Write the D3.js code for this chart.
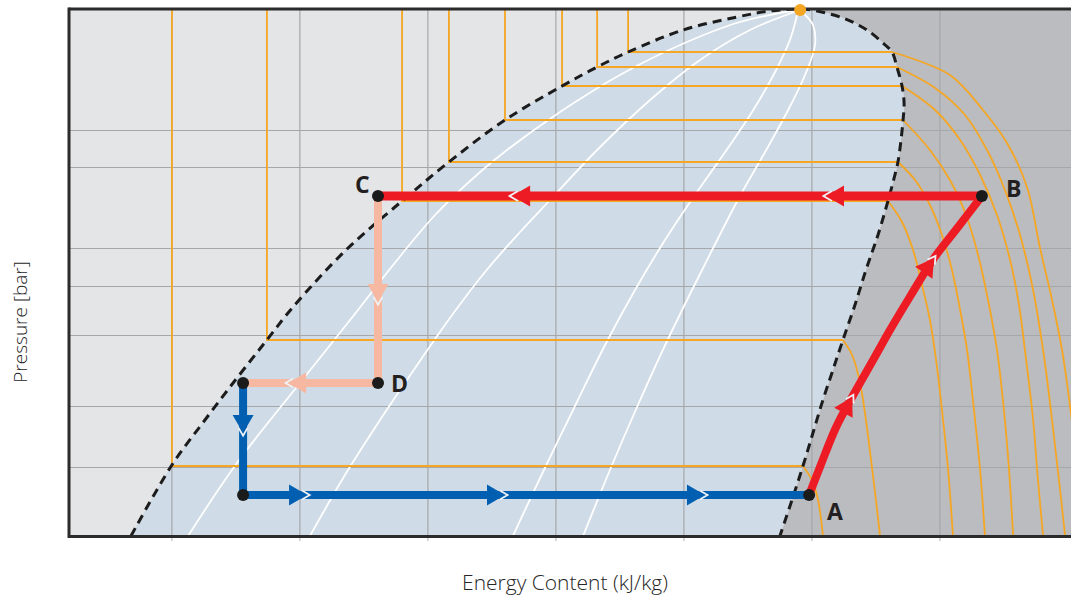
<!DOCTYPE html>
<html lang="en">
<head>
<meta charset="UTF-8">
<title>Pressure / Energy Content diagram</title>
<script src="https://d3js.org/d3.v7.min.js"></script>
<style>
  body { margin: 0; background: #fff; }
  svg { display: block; }
  .axis-title { font-family: "Open Sans", sans-serif; font-weight: 300; fill: #262626; }
  .pt-label { font-family: "Open Sans", sans-serif; font-weight: 700; font-size: 23px; fill: #231f20; }
</style>
</head>
<body>
<svg width="1071" height="597"></svg>
<script>
// grid values (enthalpy kJ/kg, pressure bar)
const hGrid = [150, 200, 250, 300, 350, 400, 450];
const pGrid = [6.9, 13.0, 20.1, 25.0, 28.8, 36.9, 40.6];

// saturation dome: liquid branch up to the critical point, then vapour branch down
const domeLiquid = [[134.2,0],[150.2,7.1],[163.1,11.6],[175.6,15.8],[187.3,19.6],[197.5,22.9],[218.2,28.6],
  [240.1,33.5],[258.4,37.4],[280.3,41.6],[302.6,45.0],[316.3,46.9],[328.4,48.4],[349.9,50.6],[370.9,51.9],
  [383.8,52.5],[395.6,52.7]];
const domeVapor = [[395.6,52.7],[400.2,52.6],[412.3,51.8],[421.7,50.6],[428.8,49.1],[431.5,48.4],[433.4,46.9],
  [435.4,45.0],[436.2,43.3],[435.8,41.6],[435.0,39.6],[433.8,37.4],[431.9,35.4],[429.9,33.5],[426.0,30.1],
  [421.3,26.6],[417.0,23.1],[412.3,19.6],[408.4,16.6],[404.5,13.6],[400.6,10.3],[396.7,7.0],[392.4,3.6],[387.7,0]];
const critical = [395.6, 52.7];

// isotherms: liquid enthalpy, saturation pressure, vapour enthalpy
const isoP = [7.0, 19.6, 33.5, 37.4, 41.6, 45.0, 46.9, 48.4];
const isoLiquidH = [150.2, 187.3, 240.1, 258.4, 280.3, 302.6, 316.3, 328.4];
const isoVaporH = [396.7, 412.3, 429.9, 433.8, 435.8, 435.4, 433.4, 431.5];
const superheat = [
  [[396.7,7.0],[400.2,5.6],[402.6,3.6],[403.8,1.6],[404.5,0]],
  [[412.3,19.6],[415.9,18.1],[419.0,15.3],[421.3,11.6],[423.3,7.6],[425.2,3.6],[426.8,0]],
  [[429.9,33.5],[435.4,31.4],[439.7,28.6],[443.2,25.1],[446.3,21.6],[448.7,17.6],[451.0,12.6],[453.4,6.6],[455.3,0]],
  [[433.8,37.4],[440.5,35.6],[446.3,33.1],[451.0,30.1],[454.9,26.6],[458.1,22.6],[460.8,18.6],[463.5,12.6],[465.9,6.6],[467.8,0]],
  [[435.8,41.6],[446.3,38.6],[454.1,35.6],[460.4,32.1],[465.1,28.1],[469.0,23.6],[472.5,18.6],[475.2,12.6],[477.2,6.6],[478.8,0]],
  [[435.4,45.0],[448.3,42.6],[458.1,39.6],[465.9,36.1],[472.5,32.1],[477.6,27.6],[481.1,23.1],[483.4,18.6],[486.6,11.6],[488.5,5.6],[490.5,0]],
  [[433.4,46.9],[448.3,44.8],[460.0,42.1],[468.6,38.6],[475.6,34.6],[481.5,30.1],[486.2,25.1],[490.5,18.6],[494.0,11.6],[496.7,5.6],[499.1,0]],
  [[431.5,48.4],[454.1,46.1],[467.0,42.6],[476.4,39.3],[484.2,34.9],[489.3,28.8],[494.0,23.6],[497.9,18.6],[500.2,14.6],[502.2,10.6]]
];

// constant quality lines inside the dome
const quality = [
  [[156.5,0],[175.6,7.3],[200.2,15.3],[219.8,21.6],[236.6,27.1],[253.0,32.1],[270.6,36.4],[281.1,38.6],[301.8,42.4],[325.2,46.1],[348.7,49.1],[372.1,51.4],[394.4,52.6]],
  [[204.1,0],[217.8,6.1],[231.5,11.6],[245.2,16.8],[258.8,21.8],[272.5,26.4],[286.2,30.4],[297.9,33.6],[316.3,38.6],[337.0,43.6],[356.5,47.6],[376.0,50.6],[394.4,52.5]],
  [[283.4,0],[294.0,5.8],[306.9,12.6],[319.4,19.1],[331.1,24.6],[342.8,29.6],[354.5,34.1],[366.3,38.4],[376.8,42.4],[385.8,46.4],[391.6,49.6],[394.4,52.1]],
  [[310.8,0],[321.3,6.6],[331.9,12.9],[341.6,18.4],[351.4,23.6],[361.6,28.8],[372.1,34.0],[381.9,38.4],[390.5,42.4],[397.5,46.1],[401.4,49.1],[400.6,51.1],[395.9,52.5]]
];

// refrigeration cycle
const A = [399.1, 4.1], B = [466.6, 34.0], C = [230.7, 34.0], D = [230.7, 15.3], E = [178.0, 15.3], F = [178.0, 4.1];
const abPath = [A, [403.5,7.0], [409.5,10.8], [415.9,13.9], [424.1,17.6], [430.7,20.6], [438.9,24.1], [447.9,27.8], [457.3,30.9], B];
const abTips = [[415.9,13.9], [447.9,27.8]];
const bcTips = [[405.7,34.0], [283.1,34.0]];
const cdTips = [[230.7,23.4]];
const deTips = [[195.6,15.3]];
const efTips = [[178.0,10.3]];
const faTips = [[203.0,4.1], [280.3,4.1], [358.4,4.1]];
const pointLabels = ["A", "B", "C", "D"];

const red = "#ed1c24", salmon = "#f6b8a0", blue = "#005fb0", orange = "#f5a623";

const svg = d3.select("svg");
const pLeft = 69, pRight = 1071, pTop = 9, pBottom = 536;

const x = d3.scaleLinear().domain([110, 501.4]).range([pLeft, pRight]);
const y = d3.scaleLinear().domain([0, 52.7]).range([pBottom, pTop]);

svg.append("defs").append("clipPath").attr("id", "plot-clip")
  .append("rect").attr("x", pLeft).attr("y", pTop).attr("width", pRight - pLeft).attr("height", pBottom - pTop);

const plot = svg.append("g").attr("clip-path", "url(#plot-clip)");

const line = d3.line().x(d => x(d[0])).y(d => y(d[1]));
const smooth = d3.line().x(d => x(d[0])).y(d => y(d[1])).curve(d3.curveCatmullRom.alpha(0.5));

// background regions
plot.append("rect").attr("x", pLeft).attr("y", pTop).attr("width", pRight - pLeft).attr("height", pBottom - pTop)
  .attr("fill", "#e4e5e7");
const hMax = x.domain()[1] + 5;
plot.append("path")
  .attr("d", smooth(domeVapor) + `L${x(hMax)},${y(0)}L${x(hMax)},${y(53)}L${x(critical[0])},${y(53)}Z`)
  .attr("fill", "#bbbcc0");
plot.append("path")
  .attr("d", smooth(domeLiquid.concat(domeVapor.slice(1))) + "Z")
  .attr("fill", "#cfdbe6");

// grid
plot.append("g").attr("transform", `translate(0,${pBottom})`)
  .call(d3.axisBottom(x).tickValues(hGrid).tickSize(-(pBottom - pTop)).tickFormat(""))
  .call(g => g.select(".domain").remove())
  .selectAll("line").attr("stroke", "#a6a7a9").attr("stroke-width", 1.2);
plot.append("g").attr("transform", `translate(${pLeft},0)`)
  .call(d3.axisLeft(y).tickValues(pGrid).tickSize(-(pRight - pLeft)).tickFormat(""))
  .call(g => g.select(".domain").remove())
  .selectAll("line").attr("stroke", "#a6a7a9").attr("stroke-width", 1.2);

// quality lines
plot.selectAll(".quality").data(quality).join("path")
  .attr("d", smooth).attr("fill", "none").attr("stroke", "#ffffff").attr("stroke-width", 1.8);

// isotherms
isoP.forEach((p, i) => {
  plot.append("path")
    .attr("d", line([[isoLiquidH[i], 53], [isoLiquidH[i], p], [isoVaporH[i], p]]))
    .attr("fill", "none").attr("stroke", orange).attr("stroke-width", 1.8);
  plot.append("path")
    .attr("d", smooth(superheat[i]))
    .attr("fill", "none").attr("stroke", orange).attr("stroke-width", 1.8);
});

// saturation curve
plot.append("path")
  .attr("d", smooth(domeLiquid.concat(domeVapor.slice(1))))
  .attr("fill", "none").attr("stroke", "#1c1c1c").attr("stroke-width", 3)
  .attr("stroke-dasharray", "9,6");

// cycle legs
const legs = [
  { pts: abPath, tips: abTips, color: red, width: 8, curved: true },
  { pts: [B, C], tips: bcTips, color: red, width: 9 },
  { pts: [C, D], tips: cdTips, color: salmon, width: 8 },
  { pts: [D, E], tips: deTips, color: salmon, width: 8 },
  { pts: [E, F], tips: efTips, color: blue, width: 8 },
  { pts: [F, A], tips: faTips, color: blue, width: 8 }
];

const cycle = svg.append("g");
const headLen = 18, headHalf = 10.5, gap = 2.6;

legs.forEach(leg => {
  cycle.append("path")
    .attr("d", (leg.curved ? smooth : line)(leg.pts))
    .attr("fill", "none").attr("stroke", leg.color).attr("stroke-width", leg.width);

  leg.tips.forEach(t => {
    const idx = leg.pts.findIndex(p => p[0] === t[0] && p[1] === t[1]);
    const p0 = idx > 0 ? leg.pts[idx - 1] : leg.pts[0];
    const p1 = idx > 0 ? leg.pts[idx + 1] : leg.pts[leg.pts.length - 1];
    let ux = x(p1[0]) - x(p0[0]), uy = y(p1[1]) - y(p0[1]);
    const len = Math.hypot(ux, uy);
    ux /= len; uy /= len;
    const nx = -uy, ny = ux;
    const tx = x(t[0]), ty = y(t[1]);

    cycle.append("path")
      .attr("d", `M${tx},${ty}L${tx - ux * headLen + nx * headHalf},${ty - uy * headLen + ny * headHalf}` +
                 `L${tx - ux * headLen - nx * headHalf},${ty - uy * headLen - ny * headHalf}Z`)
      .attr("fill", leg.color);

    // light notch in front of the arrow tip
    const hw = leg.width / 2 + 0.5;
    const back = headLen * hw / headHalf;
    const vx = tx + ux * gap, vy = ty + uy * gap;
    cycle.append("path")
      .attr("d", `M${vx - ux * back + nx * hw},${vy - uy * back + ny * hw}L${vx},${vy}` +
                 `L${vx - ux * back - nx * hw},${vy - uy * back - ny * hw}`)
      .attr("fill", "none").attr("stroke", "#eef2f6").attr("stroke-width", 1.8);
  });
});

// state points
cycle.selectAll("circle").data([A, B, C, D, E, F]).join("circle")
  .attr("cx", d => x(d[0])).attr("cy", d => y(d[1])).attr("r", 6).attr("fill", "#1b1b1b");

const labelOffset = { A: [18, 25], B: [24, 1], C: [-23, -3], D: [13, 9] };
[A, B, C, D].forEach((pt, i) => {
  const name = pointLabels[i];
  svg.append("text").attr("class", "pt-label")
    .attr("x", x(pt[0]) + labelOffset[name][0])
    .attr("y", y(pt[1]) + labelOffset[name][1])
    .text(name);
});

// frame
svg.append("line").attr("x1", pLeft).attr("x2", pRight).attr("y1", pTop).attr("y2", pTop)
  .attr("stroke", "#2b2b2b").attr("stroke-width", 3);
svg.append("line").attr("x1", pLeft).attr("x2", pRight).attr("y1", pBottom + 0.5).attr("y2", pBottom + 0.5)
  .attr("stroke", "#2b2b2b").attr("stroke-width", 3);
svg.append("line").attr("x1", pLeft).attr("x2", pLeft).attr("y1", pTop - 1.5).attr("y2", pBottom + 2)
  .attr("stroke", "#2b2b2b").attr("stroke-width", 3);

// small ticks under the x axis
svg.append("g").attr("transform", `translate(0,${pBottom + 2})`)
  .call(d3.axisBottom(x).tickValues(hGrid).tickSize(3).tickFormat(""))
  .call(g => g.select(".domain").remove())
  .selectAll("line").attr("stroke", "#b0b0b0");

// critical point
svg.append("circle").attr("cx", x(critical[0])).attr("cy", y(critical[1]) + 1).attr("r", 6).attr("fill", orange);

// axis titles
svg.append("text").attr("class", "axis-title")
  .attr("x", 565).attr("y", 590).attr("text-anchor", "middle").style("font-size", "21px")
  .text("Energy Content (kJ/kg)");
svg.append("text").attr("class", "axis-title")
  .attr("transform", "translate(27,322) rotate(-90)").attr("text-anchor", "middle").style("font-size", "19px")
  .text("Pressure [bar]");
</script>
</body>
</html>
